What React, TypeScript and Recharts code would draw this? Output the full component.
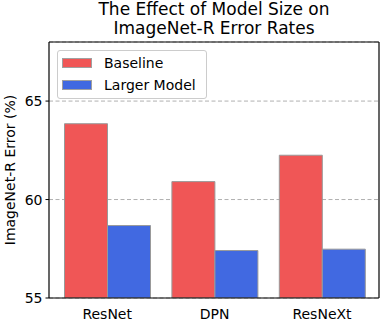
import { Bar, BarChart, CartesianGrid, Legend, XAxis, YAxis } from "recharts";

const models = ["ResNet", "DPN", "ResNeXt"];
const baseline = [63.85, 60.91, 62.25];
const larger = [58.68, 57.41, 57.48];
const yTicks = [55, 60, 65];

const FONT = "'DejaVu Sans', sans-serif";
const RED = "#F05656";
const BLUE = "#4169E1";

const data = models.map((name, i) => ({
  name,
  baseline: baseline[i],
  larger: larger[i],
}));

function LegendBox({ payload }: { payload?: any[] }) {
  return (
    <div
      style={{
        border: "1px solid #cccccc",
        borderRadius: 3,
        background: "rgba(255,255,255,0.8)",
        padding: "1px 0 2px 0",
        fontFamily: FONT,
        fontSize: 14,
        color: "#000",
        boxSizing: "border-box",
      }}
    >
      {(payload ?? []).map((item) => (
        <div
          key={item.value}
          style={{ display: "flex", alignItems: "center", height: 22 }}
        >
          <span
            style={{
              display: "inline-block",
              width: 30,
              height: 10,
              marginLeft: 4,
              marginRight: 12,
              background: item.color,
              border: "1px solid #a0a0a0",
              boxSizing: "border-box",
            }}
          />
          <span>{item.value}</span>
        </div>
      ))}
    </div>
  );
}

export default function App() {
  return (
    <div
      style={{
        position: "absolute",
        left: 0,
        top: 0,
        width: 380,
        height: 323,
        background: "#fff",
        fontFamily: FONT,
      }}
    >
      <div
        style={{
          position: "absolute",
          left: 49,
          width: 330,
          top: 0,
          textAlign: "center",
          fontSize: 17,
          lineHeight: "19px",
          color: "#000",
        }}
      >
        The Effect of Model Size on
        <br />
        ImageNet-R Error Rates
      </div>
      <div
        style={{
          position: "absolute",
          left: 10,
          top: 170,
          transform: "translate(-50%, -50%) rotate(-90deg)",
          whiteSpace: "nowrap",
          fontSize: 14,
          color: "#000",
        }}
      >
        ImageNet-R Error (%)
      </div>
      <BarChart
        width={380}
        height={323}
        data={data}
        margin={{ top: 41, right: 0, bottom: 0, left: 20 }}
        barGap={0}
        barSize={43}
      >
        <CartesianGrid
          horizontal
          vertical={false}
          stroke="#b0b0b0"
          strokeDasharray="4 2.5"
        />
        <XAxis
          dataKey="name"
          height={25}
          padding={{ left: 4.5, right: 3.3 }}
          tickLine={false}
          tickSize={0}
          tickMargin={11}
          axisLine={{ stroke: "#000", strokeWidth: 1.2 }}
          tick={{ fill: "#000", fontSize: 14, fontFamily: FONT }}
        />
        <XAxis
          xAxisId="top"
          orientation="top"
          dataKey="name"
          height={1}
          tick={false}
          tickLine={false}
          axisLine={{ stroke: "#000", strokeWidth: 1.2 }}
        />
        <YAxis
          width={29}
          domain={[55, 68]}
          ticks={yTicks}
          allowDataOverflow
          tickSize={3.5}
          tickMargin={3}
          axisLine={{ stroke: "#000", strokeWidth: 1.2 }}
          tickLine={{ stroke: "#000" }}
          tick={{ fill: "#000", fontSize: 14, fontFamily: FONT }}
        />
        <YAxis
          yAxisId="right"
          orientation="right"
          width={1}
          domain={[55, 68]}
          tick={false}
          tickLine={false}
          axisLine={{ stroke: "#000", strokeWidth: 1.2 }}
        />
        <Legend
          layout="vertical"
          align="center"
          verticalAlign="middle"
          wrapperStyle={{ left: 57, top: 50, width: 150 }}
          content={(props: any) => <LegendBox payload={props.payload} />}
        />
        <Bar
          dataKey="baseline"
          name="Baseline"
          fill={RED}
          stroke="#999999"
          strokeWidth={1}
          isAnimationActive={false}
        />
        <Bar
          dataKey="larger"
          name="Larger Model"
          fill={BLUE}
          stroke="#999999"
          strokeWidth={1}
          isAnimationActive={false}
        />
      </BarChart>
    </div>
  );
}
